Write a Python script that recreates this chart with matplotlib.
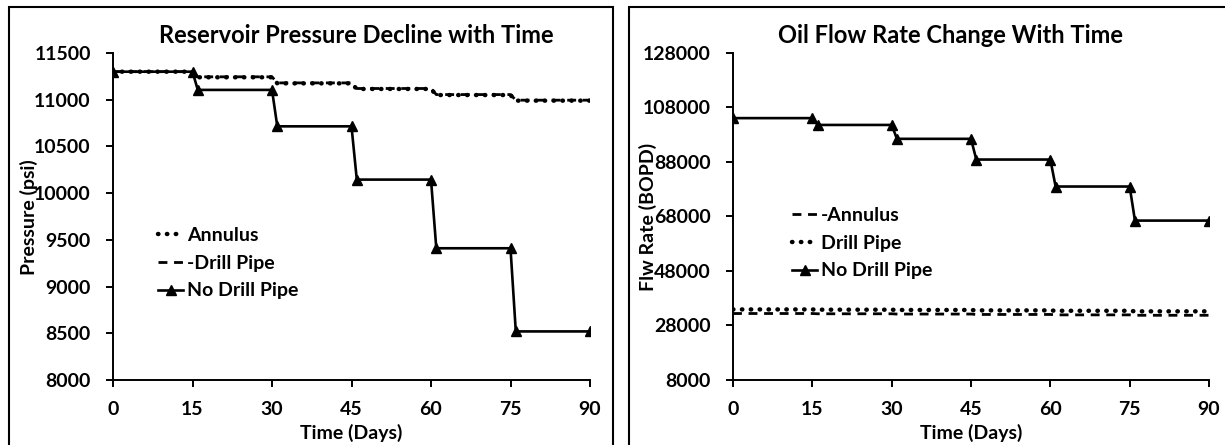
import matplotlib
matplotlib.use("Agg")
import matplotlib.pyplot as plt
from matplotlib.patches import Rectangle

plt.rcParams['font.family'] = ['Lato', 'DejaVu Sans']
plt.rcParams['font.weight'] = 'bold'

days = [0, 15, 16, 30, 31, 45, 46, 60, 61, 75, 76, 90]
x_ticks = [0, 15, 30, 45, 60, 75, 90]

# Left chart: pressure (psi)
p_annulus = [11300, 11300, 11240, 11240, 11175, 11175, 11115, 11115, 11050, 11050, 10990, 10990]
p_drillpipe = [11300, 11300, 11245, 11245, 11180, 11180, 11120, 11120, 11055, 11055, 10995, 10995]
p_nodrill = [11300, 11300, 11105, 11105, 10715, 10715, 10145, 10145, 9410, 9410, 8520, 8520]
p_ticks = [8000, 8500, 9000, 9500, 10000, 10500, 11000, 11500]

# Right chart: flow rate (BOPD)
q_annulus = [32400, 32400, 32300, 32300, 32200, 32200, 32050, 32050, 31900, 31900, 31750, 31750]
q_drillpipe = [33900, 33900, 33800, 33800, 33700, 33700, 33550, 33550, 33400, 33400, 33200, 33200]
q_nodrill = [104100, 104100, 101600, 101600, 96500, 96500, 88900, 88900, 79000, 79000, 66500, 66500]
q_ticks = [8000, 28000, 48000, 68000, 88000, 108000, 128000]

W, H = 1225, 445
fig = plt.figure(figsize=(W / 100, H / 100), dpi=100)

def fx(px):
    return px / W

def fy(py):
    return 1 - py / H

# panel borders
fig.patches.append(Rectangle((fx(9), fy(460)), fx(613) - fx(9), fy(7) - fy(460),
                             transform=fig.transFigure, fill=False, edgecolor='black', linewidth=1.5))
fig.patches.append(Rectangle((fx(629), fy(460)), fx(1240) - fx(629), fy(7) - fy(460),
                             transform=fig.transFigure, fill=False, edgecolor='black', linewidth=1.5))

axL = fig.add_axes([fx(113), fy(380), fx(590) - fx(113), fy(53) - fy(380)])
axR = fig.add_axes([fx(733), fy(380), fx(1209) - fx(733), fy(53) - fy(380)])

dot_style = dict(color='black', linewidth=3.2, linestyle=(0, (0.1, 1.9)), dash_capstyle='round')
dash_style = dict(color='black', linewidth=2.0, linestyle=(0, (3.2, 2.4)))
tri_style = dict(color='black', linewidth=1.9, marker='^', markersize=7)

axL.plot(days, p_annulus, label='Annulus', **dot_style)
axL.plot(days, p_drillpipe, label='-Drill Pipe', **dash_style)
axL.plot(days, p_nodrill, label='No Drill Pipe', **tri_style)

axR.plot(days, q_annulus, label='-Annulus', **dash_style)
axR.plot(days, q_drillpipe, label='Drill Pipe', **dot_style)
axR.plot(days, q_nodrill, label='No Drill Pipe', **tri_style)

FS = 14
for ax, yt in ((axL, p_ticks), (axR, q_ticks)):
    ax.set_xlim(0, 90)
    ax.set_ylim(yt[0], yt[-1])
    ax.set_xticks(x_ticks)
    ax.set_yticks(yt)
    ax.spines['top'].set_visible(False)
    ax.spines['right'].set_visible(False)
    ax.spines['left'].set_linewidth(1.4)
    ax.spines['bottom'].set_linewidth(1.4)
    ax.tick_params(direction='out', length=5, width=1.4, labelsize=FS)
    ax.tick_params(axis='x', pad=10)
    ax.tick_params(axis='y', pad=11)
    for lab in ax.get_xticklabels() + ax.get_yticklabels():
        lab.set_fontweight('bold')
    ax.set_xlabel('Time (Days)', fontsize=FS, fontweight='bold', va='center')
    ax.xaxis.set_label_coords(0.5, (380 - 433) / 327)
    ax.patch.set_alpha(0)

axL.set_ylabel('Pressure (psi)', fontsize=FS, fontweight='bold', va='center')
axL.yaxis.set_label_coords((29 - 113) / 477, (380 - 217) / 327)
axR.set_ylabel('Flw Rate (BOPD)', fontsize=FS, fontweight='bold', va='center')
axR.yaxis.set_label_coords((648 - 733) / 476, (380 - 217) / 327)

axL.text((356 - 113) / 477, (380 - 35) / 327, 'Reservoir Pressure Decline with Time',
         transform=axL.transAxes, ha='center', va='center', fontsize=17, fontweight='bold')
axR.text((951 - 733) / 476, (380 - 35) / 327, 'Oil Flow Rate Change With Time',
         transform=axR.transAxes, ha='center', va='center', fontsize=17, fontweight='bold')

leg_kw = dict(frameon=False, handlelength=1.3, handletextpad=0.2, labelspacing=0.55,
              prop={'size': FS, 'weight': 'bold'}, borderpad=0, borderaxespad=0)
axL.legend(loc='upper left', bbox_to_anchor=((158 - 113) / 477, (380 - 227) / 327), **leg_kw)
axR.legend(loc='upper left', bbox_to_anchor=((792 - 733) / 476, (380 - 207) / 327), **leg_kw)

fig.savefig('out.png', dpi=100)
